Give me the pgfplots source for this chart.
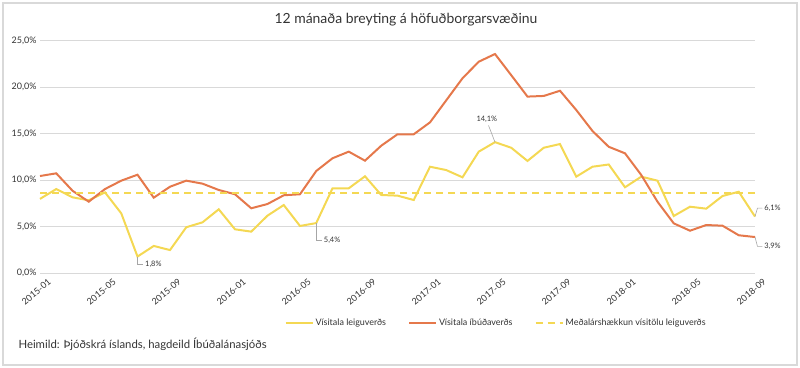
\documentclass[border=0pt]{standalone}
\usepackage{pgfplots}
\pgfplotsset{compat=1.18}
\usepackage{fontspec}
\setmainfont{Lato}
\definecolor{yel}{HTML}{F4D853}
\definecolor{ora}{HTML}{E5784B}
\definecolor{gridc}{HTML}{D9D9D9}
\definecolor{txt}{HTML}{333333}
\begin{document}
\begin{tikzpicture}
\path[use as bounding box] (0bp,0bp) rectangle (800bp,368bp);
\draw[gridc, line width=1.5bp] (3bp,3bp) rectangle (797bp,365bp);
\node[font=\fontsize{14}{16}\selectfont, text=txt] at (406bp,348bp) {12 mánaða breyting á höfuðborgarsvæðinu};
\node[anchor=west, font=\fontsize{11.4}{13}\selectfont, text=txt] at (15bp,24bp) {Heimild: Þjóðskrá íslands, hagdeild Íbúðalánasjóðs};
\begin{axis}[
  at={(40bp,94.7bp)}, anchor=south west, scale only axis,
  width=715bp, height=232.5bp,
  xmin=0, xmax=44, ymin=0, ymax=25,
  clip=false,
  axis line style={draw=none},
  major tick length=0pt,
  ymajorgrids, grid style={gridc, line width=1bp},
  ytick={0,5,...,25},
  yticklabel={\pgfmathprintnumber[fixed,fixed zerofill,precision=1,use comma]{\tick}\%},
  /pgf/number format/assume math mode=true,
  yticklabel style={font=\fontsize{9}{10}\selectfont, text=txt},
  xtick={0,4,...,44},
  xticklabels={2015-01,2015-05,2015-09,2016-01,2016-05,2016-09,2017-01,2017-05,2017-09,2018-01,2018-05,2018-09},
  xticklabel style={rotate=40, anchor=north east, font=\fontsize{9}{10}\selectfont, text=txt, xshift=6bp, yshift=-5bp},
  legend style={at={(0.638,-0.214)}, anchor=center, draw=none, fill=none,
    font=\fontsize{9}{10}\selectfont, text=txt,
    /tikz/every even column/.append style={column sep=20bp}},
  legend columns=3,
  legend cell align=left,
  legend image code/.code={\draw[#1] (0bp,0bp) -- (27bp,0bp);},
]
\addplot[yel, line width=2bp] coordinates {
(0,8.0) (1,9.06) (2,8.17) (3,7.85) (4,8.7) (5,6.45) (6,1.8) (7,2.94) (8,2.5) (9,4.95)
(10,5.48) (11,6.88) (12,4.73) (13,4.48) (14,6.2) (15,7.34) (16,5.09) (17,5.4) (18,9.14) (19,9.14)
(20,10.43) (21,8.42) (22,8.35) (23,7.88) (24,11.46) (25,11.1) (26,10.32) (27,13.08) (28,14.1) (29,13.5)
(30,12.08) (31,13.5) (32,13.9) (33,10.39) (34,11.46) (35,11.7) (36,9.25) (37,10.39) (38,9.96) (39,6.16)
(40,7.16) (41,6.95) (42,8.31) (43,8.77) (44,6.1)
};
\addlegendentry{Vísitala leiguverðs}
\addplot[ora, line width=2bp] coordinates {
(0,10.46) (1,10.75) (2,8.88) (3,7.7) (4,9.06) (5,9.96) (6,10.6) (7,8.13) (8,9.31) (9,9.96)
(10,9.64) (11,8.96) (12,8.5) (13,6.99) (14,7.45) (15,8.39) (16,8.5) (17,11.0) (18,12.37) (19,13.08)
(20,12.11) (21,13.72) (22,14.95) (23,14.95) (24,16.23) (25,18.6) (26,20.97) (27,22.75) (28,23.58) (29,21.3)
(30,19.0) (31,19.07) (32,19.63) (33,17.56) (34,15.3) (35,13.6) (36,12.9) (37,10.57) (38,7.7) (39,5.37)
(40,4.58) (41,5.19) (42,5.12) (43,4.09) (44,3.9)
};
\addlegendentry{Vísitala íbúðaverðs}
\addplot[yel, line width=2bp, dash pattern=on 7bp off 5bp] coordinates {(0,8.6) (44,8.6)};
\addlegendentry{Meðalárshækkun vísitölu leiguverðs}
% data labels
\draw[gray!70, line width=0.6bp] (axis cs:6,1.8) -- (axis cs:6,1.0) -- (axis cs:6.35,1.0);
\node[anchor=west, inner sep=1bp, font=\fontsize{7.5}{8}\selectfont, text=txt] at (axis cs:6.4,1.0) {1,8\%};
\draw[gray!70, line width=0.6bp] (axis cs:17,5.4) -- (axis cs:17,3.6) -- (axis cs:17.35,3.6);
\node[anchor=west, inner sep=1bp, font=\fontsize{7.5}{8}\selectfont, text=txt] at (axis cs:17.4,3.6) {5,4\%};
\draw[gray!70, line width=0.6bp] (axis cs:28,14.1) -- (axis cs:27.6,15.9);
\node[inner sep=1bp, font=\fontsize{7.5}{8}\selectfont, text=txt] at (axis cs:27.5,16.6) {14,1\%};
\draw[gray!70, line width=0.6bp] (axis cs:44,6.1) -- (axis cs:44.15,7.0) -- (axis cs:44.45,7.0);
\node[anchor=west, inner sep=1bp, font=\fontsize{7.5}{8}\selectfont, text=txt] at (axis cs:44.5,7.0) {6,1\%};
\draw[gray!70, line width=0.6bp] (axis cs:44,3.9) -- (axis cs:44.15,2.9) -- (axis cs:44.45,2.9);
\node[anchor=west, inner sep=1bp, font=\fontsize{7.5}{8}\selectfont, text=txt] at (axis cs:44.5,2.9) {3,9\%};
\end{axis}
\end{tikzpicture}
\end{document}
